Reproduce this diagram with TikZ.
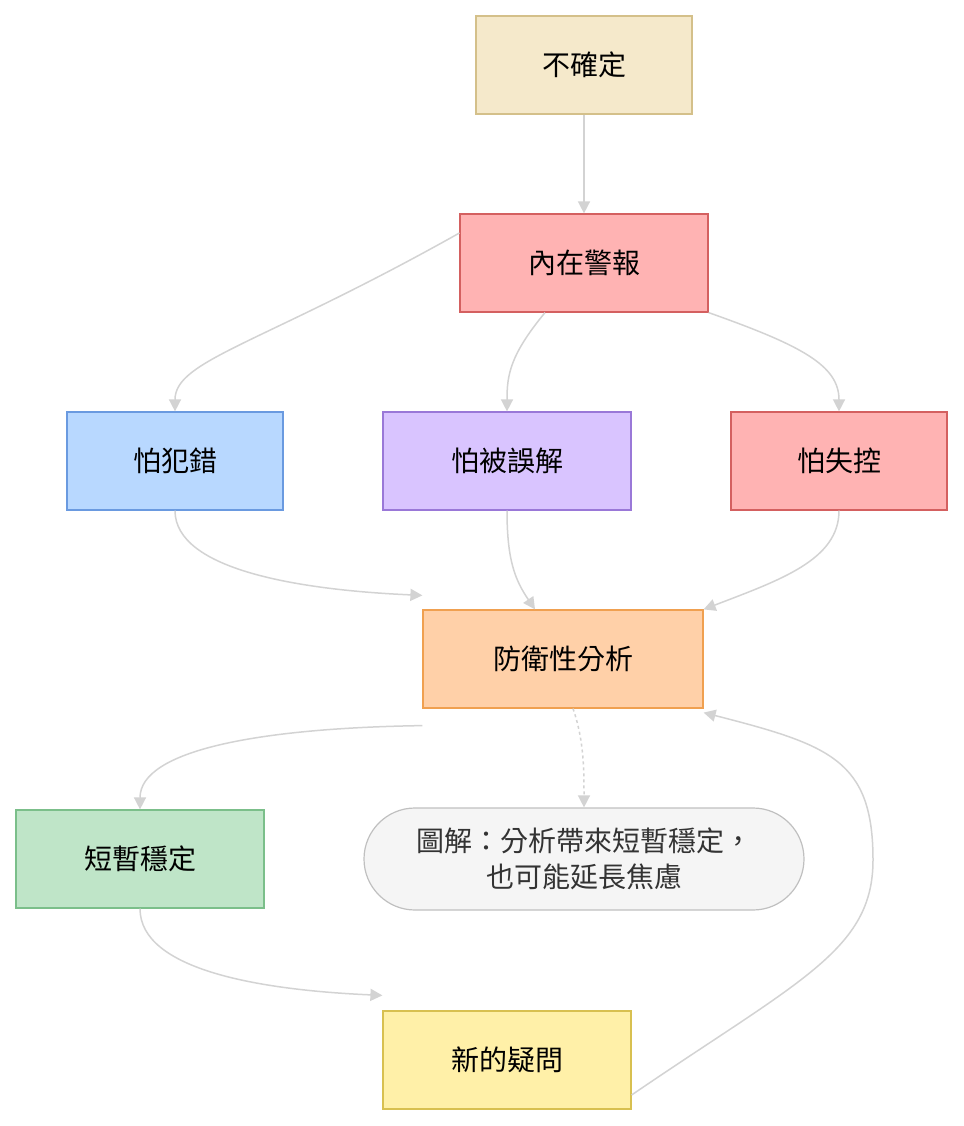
\documentclass[tikz,border=0pt]{standalone}
\usepackage{fontspec}
\setmainfont{Noto Sans CJK TC}
\usetikzlibrary{arrows.meta,calc}
\definecolor{edge}{HTML}{D3D3D3}
\definecolor{uF}{HTML}{F5E9CB}\definecolor{uD}{HTML}{D4C08A}
\definecolor{rF}{HTML}{FFB3B3}\definecolor{rD}{HTML}{D46060}
\definecolor{bF}{HTML}{B8D8FF}\definecolor{bD}{HTML}{6A9AE0}
\definecolor{pF}{HTML}{D9C4FF}\definecolor{pD}{HTML}{9A78D8}
\definecolor{oF}{HTML}{FFD0A8}\definecolor{oD}{HTML}{F0A050}
\definecolor{gF}{HTML}{BFE5C8}\definecolor{gD}{HTML}{7BBF8A}
\definecolor{nF}{HTML}{F5F5F5}\definecolor{nD}{HTML}{C0C0C0}\definecolor{nT}{HTML}{333333}
\definecolor{yF}{HTML}{FFF0A8}\definecolor{yD}{HTML}{D8C050}
\tikzset{
 box/.style={draw, line width=1.2pt, minimum height=98pt, inner sep=0pt, font=\fontsize{28}{34}\selectfont},
 conn/.style={draw=edge, line width=1.5pt, -{Triangle[length=12pt,width=12pt]}},
}
\begin{document}
\begin{tikzpicture}[x=1pt,y=-1pt]
\useasboundingbox (0,0) rectangle (963,1126);
\node[box, minimum width=216pt, fill=uF, draw=uD] (u) at (584,65) {不確定};
\node[box, minimum width=248pt, fill=rF, draw=rD] (al) at (584,263) {內在警報};
\node[box, minimum width=216pt, fill=bF, draw=bD] (f1) at (175,461) {怕犯錯};
\node[box, minimum width=248pt, fill=pF, draw=pD] (f2) at (507,461) {怕被誤解};
\node[box, minimum width=216pt, fill=rF, draw=rD] (f3) at (839,461) {怕失控};
\node[box, minimum width=280pt, fill=oF, draw=oD] (d) at (563,659) {防衛性分析};
\node[box, minimum width=248pt, fill=gF, draw=gD] (s) at (140,859) {短暫穩定};
\node[box, minimum width=440pt, minimum height=102pt, rounded corners=51pt, fill=nF, draw=nD, text=nT, align=center, font=\fontsize{28}{36}\selectfont] (n) at (584,859) {圖解：分析帶來短暫穩定，\\也可能延長焦慮};
\node[box, minimum width=248pt, fill=yF, draw=yD] (q) at (507,1060) {新的疑問};

\draw[conn] (u) -- (al);
\draw[conn] ([yshift=30]al.west) .. controls (260,345) and (175,360) .. (f1.north);
\draw[conn] ([xshift=-39]al.south) .. controls (510,355) and (507,375) .. (f2.north);
\draw[conn] (al.south east) .. controls (800,345) and (839,365) .. (f3.north);
\draw[conn] (f1.south) .. controls (175,570) and (300,590) .. ([yshift=14]d.north west);
\draw[conn] (f2.south) .. controls (507,560) and (515,580) .. ([xshift=-28]d.north);
\draw[conn] (f3.south) .. controls (839,560) and (780,580) .. (d.north east);
\draw[conn] ([yshift=-17]d.south west) .. controls (260,728) and (140,750) .. (s.north);
\draw[conn, dashed] ([xshift=10]d.south) .. controls (584,740) and (584,770) .. (n.north);
\draw[conn] (s.south) .. controls (140,970) and (260,990) .. ([yshift=15]q.north west);
\draw[conn] ([yshift=-35]q.east) .. controls (800,980) and (873,950) .. (873,860) .. controls (873,760) and (830,745) .. ([yshift=-4]d.south east);
\end{tikzpicture}
\end{document}
